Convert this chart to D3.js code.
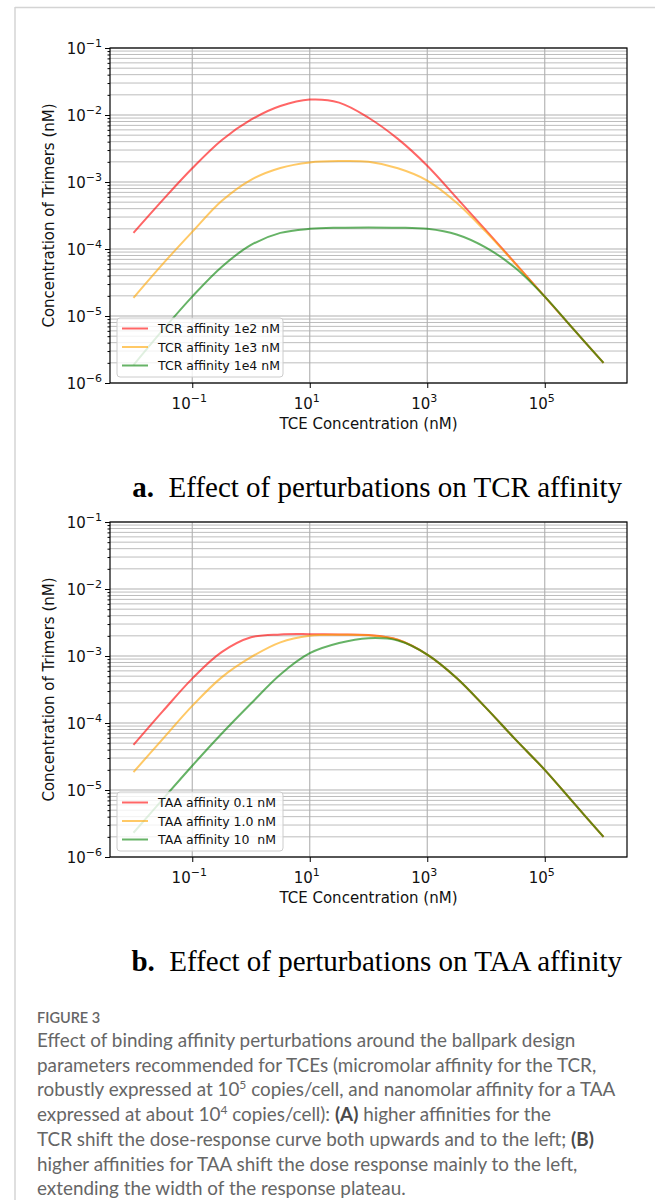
<!DOCTYPE html>
<html>
<head>
<meta charset="utf-8">
<script src="https://cdn.jsdelivr.net/npm/d3@7"></script>
<style>
  body { margin: 0; background: #fff; }
  svg { display: block; }
</style>
</head>
<body>
<svg id="fig" width="655" height="1200"></svg>
<script>
// TCE concentration sample points (nM), half-decade steps
const tceConc = [0.01, 0.0316, 0.1, 0.316, 1, 3.16, 10, 31.6, 100, 316, 1000, 3162, 1e4, 31623, 1e5, 316228, 1e6];

// Panel a: TCR affinity
const tcrLabels = ['TCR affinity 1e2 nM', 'TCR affinity 1e3 nM', 'TCR affinity 1e4 nM'];
const tcr1e2 = [1.74e-4, 5.4e-4, 1.6e-3, 4.2e-3, 8.5e-3, 1.36e-2, 1.7e-2, 1.53e-2, 9.1e-3, 4.4e-3, 1.75e-3, 5.8e-4, 1.9e-4, 6.1e-5, 1.95e-5, 6.2e-6, 2e-6];
const tcr1e3 = [1.87e-5, 6.0e-5, 1.8e-4, 5.2e-4, 1.08e-3, 1.62e-3, 1.96e-3, 2.05e-3, 2.0e-3, 1.6e-3, 1.05e-3, 4.9e-4, 1.8e-4, 6.0e-5, 1.95e-5, 6.2e-6, 2e-6];
const tcr1e4 = [1.85e-6, 6.2e-6, 1.95e-5, 5.4e-5, 1.15e-4, 1.74e-4, 2.0e-4, 2.08e-4, 2.1e-4, 2.08e-4, 2.0e-4, 1.65e-4, 1.05e-4, 5.2e-5, 1.95e-5, 6.2e-6, 2e-6];

// Panel b: TAA affinity
const taaLabels = ['TAA affinity 0.1 nM', 'TAA affinity 1.0 nM', 'TAA affinity 10  nM'];
const taa01 = [4.7e-5, 1.5e-4, 4.6e-4, 1.14e-3, 1.9e-3, 2.1e-3, 2.12e-3, 2.1e-3, 2.05e-3, 1.75e-3, 1.05e-3, 4.7e-4, 1.68e-4, 5.7e-5, 2.0e-5, 6.3e-6, 2e-6];
const taa1 = [1.85e-5, 5.8e-5, 1.8e-4, 4.8e-4, 9.6e-4, 1.6e-3, 2.0e-3, 2.07e-3, 2.04e-3, 1.75e-3, 1.05e-3, 4.7e-4, 1.68e-4, 5.7e-5, 2.0e-5, 6.3e-6, 2e-6];
const taa10 = [2.3e-6, 7.3e-6, 2.3e-5, 6.9e-5, 1.95e-4, 5.3e-4, 1.1e-3, 1.56e-3, 1.84e-3, 1.7e-3, 1.05e-3, 4.7e-4, 1.68e-4, 5.7e-5, 2.0e-5, 6.3e-6, 2e-6];

const seriesColors = ['red', 'orange', 'green'];
const xTicks = [1e-1, 1e1, 1e3, 1e5];
const xTickExp = ['\u22121', '1', '3', '5'];
const yTicks = [1e-6, 1e-5, 1e-4, 1e-3, 1e-2, 1e-1];
const yTickExp = ['\u22126', '\u22125', '\u22124', '\u22123', '\u22122', '\u22121'];

const captionLines = [
  [['Effect of binding affinity perturbations around the ballpark design']],
  [['parameters recommended for TCEs (micromolar affinity for the TCR,']],
  [['robustly expressed at 10'], ['5', 'sup'], [' copies/cell, and nanomolar affinity for a TAA']],
  [['expressed at about 10'], ['4', 'sup'], [' copies/cell): '], ['(A)', 'b'], [' higher affinities for the']],
  [['TCR shift the dose-response curve both upwards and to the left; '], ['(B)', 'b']],
  [['higher affinities for TAA shift the dose response mainly to the left,']],
  [['extending the width of the response plateau.']]
];

const svg = d3.select('#fig');

// page frame
svg.append('line').attr('x1', 15).attr('x2', 655).attr('y1', 7.5).attr('y2', 7.5)
  .attr('stroke', '#d4d4d4').attr('stroke-width', 1.5);
svg.append('line').attr('x1', 15).attr('x2', 15).attr('y1', 7).attr('y2', 1200)
  .attr('stroke', '#d4d4d4').attr('stroke-width', 1.5);

const left = 110, right = 627, plotH = 335;
const x = d3.scaleLog().domain([Math.pow(10, -2.4), Math.pow(10, 6.4)]).range([left, right]);

// minor y values 2..9 x 10^k
const yMinor = [];
for (let k = -6; k < -1; k++) {
  for (let m = 2; m <= 9; m++) yMinor.push(m * Math.pow(10, k));
}

function drawPanel(top, series, labels, title) {
  const y = d3.scaleLog().domain([1e-6, 1e-1]).range([top + plotH, top]);
  const g = svg.append('g');

  // grid
  g.append('g').selectAll('line').data(yMinor).join('line')
    .attr('x1', left).attr('x2', right)
    .attr('y1', d => y(d)).attr('y2', d => y(d))
    .attr('stroke', '#bdbdbd').attr('stroke-width', 1);
  g.append('g').selectAll('line').data(yTicks).join('line')
    .attr('x1', left).attr('x2', right)
    .attr('y1', d => y(d)).attr('y2', d => y(d))
    .attr('stroke', '#b0b0b0').attr('stroke-width', 1.1);
  g.append('g').selectAll('line').data(xTicks).join('line')
    .attr('x1', d => x(d)).attr('x2', d => x(d))
    .attr('y1', top).attr('y2', top + plotH)
    .attr('stroke', '#b0b0b0').attr('stroke-width', 1.1);

  // curves
  const line = d3.line()
    .x((d, i) => x(tceConc[i]))
    .y(d => y(d))
    .curve(d3.curveCatmullRom.alpha(0.5));
  series.forEach((s, i) => {
    g.append('path').attr('d', line(s))
      .attr('fill', 'none')
      .attr('stroke', seriesColors[i])
      .attr('stroke-opacity', 0.6)
      .attr('stroke-width', 2);
  });

  // frame
  g.append('rect').attr('x', left).attr('y', top)
    .attr('width', right - left).attr('height', plotH)
    .attr('fill', 'none').attr('stroke', '#000').attr('stroke-width', 1.2);

  // axes ticks
  const xAxis = g.append('g').attr('transform', `translate(0,${top + plotH})`)
    .call(d3.axisBottom(x).tickValues(xTicks).tickSize(5).tickFormat(''));
  const yAxis = g.append('g').attr('transform', `translate(${left},0)`)
    .call(d3.axisLeft(y).tickValues(yTicks).tickSize(5).tickFormat(''));
  g.append('g').attr('transform', `translate(${left},0)`)
    .call(d3.axisLeft(y).tickValues(yMinor).tickSize(2.5).tickFormat(''))
    .call(a => a.select('.domain').remove());
  [xAxis, yAxis].forEach(a => {
    a.select('.domain').remove();
    a.selectAll('line').attr('stroke', '#000').attr('stroke-width', 1);
  });

  // tick labels
  xTicks.forEach((v, i) => {
    const t = g.append('text').attr('x', x(v) - 3).attr('y', top + plotH + 26)
      .attr('text-anchor', 'middle')
      .style('font', '15px "DejaVu Sans"').attr('fill', '#111');
    t.append('tspan').text('10');
    t.append('tspan').attr('dy', -7).style('font-size', '11px').text(xTickExp[i]);
  });
  yTicks.forEach((v, i) => {
    const t = g.append('text').attr('x', 102).attr('y', y(v) + 5.5)
      .attr('text-anchor', 'end')
      .style('font', '15px "DejaVu Sans"').attr('fill', '#111');
    t.append('tspan').text('10');
    t.append('tspan').attr('dy', -7).style('font-size', '11px').text(yTickExp[i]);
  });

  // axis titles
  g.append('text').attr('x', (left + right) / 2).attr('y', top + plotH + 46)
    .attr('text-anchor', 'middle')
    .style('font', '15px "DejaVu Sans"').attr('fill', '#111')
    .text('TCE Concentration (nM)');
  g.append('text')
    .attr('transform', `translate(54,${top + plotH / 2}) rotate(-90)`)
    .attr('text-anchor', 'middle')
    .style('font', '15px "DejaVu Sans"').attr('fill', '#111')
    .text('Concentration of Trimers (nM)');

  // legend
  const lg = g.append('g').attr('transform', `translate(117,${top + plotH - 65})`);
  lg.append('rect').attr('width', 166).attr('height', 59).attr('rx', 3)
    .attr('fill', '#fff').attr('fill-opacity', 0.8)
    .attr('stroke', '#ccc').attr('stroke-width', 1);
  labels.forEach((lab, i) => {
    const ry = 10.5 + i * 18.5;
    lg.append('line').attr('x1', 5).attr('x2', 31).attr('y1', ry).attr('y2', ry)
      .attr('stroke', seriesColors[i]).attr('stroke-opacity', 0.6).attr('stroke-width', 2);
    lg.append('text').attr('x', 41).attr('y', ry + 4.5)
      .style('font', '12.5px "DejaVu Sans"').attr('fill', '#111')
      .attr('xml:space', 'preserve')
      .text(lab);
  });

  // panel title
  const tt = svg.append('text').attr('x', 622).attr('y', top + plotH + 114)
    .attr('text-anchor', 'end')
    .style('font', '29px "Liberation Serif"').attr('fill', '#000');
  tt.append('tspan').style('font-weight', 'bold').text(title[0]);
  tt.append('tspan').text('\u00a0 ' + title[1]);
}

drawPanel(48, [tcr1e2, tcr1e3, tcr1e4], tcrLabels, ['a.', 'Effect of perturbations on TCR affinity']);
drawPanel(522, [taa01, taa1, taa10], taaLabels, ['b.', 'Effect of perturbations on TAA affinity']);

// caption
svg.append('text').attr('x', 37).attr('y', 1023)
  .style('font', '600 14.5px Lato').attr('fill', '#666')
  .text('FIGURE 3');

const capTexts = captionLines.map((parts, i) => {
  const t = svg.append('text').attr('x', 37).attr('y', 1047 + i * 24.7)
    .style('font-family', 'Lato').style('font-size', '17.5px').attr('fill', '#666');
  parts.forEach(p => {
    const ts = t.append('tspan').text(p[0]);
    if (p[1] === 'sup') {
      ts.attr('dy', -7).style('font-size', '12px');
    } else if (p[1] === 'b') {
      ts.style('font-weight', 'bold').attr('fill', '#4a4a4a');
    }
  });
  // bring baseline back after superscripts
  t.selectAll('tspan').each(function(d, j, nodes) {
    const prev = nodes[j - 1];
    if (prev && prev.getAttribute('dy') === '-7') d3.select(this).attr('dy', 7);
  });
  return t;
});
// the third line runs to about x = 616 in the figure; size the caption to match
const w3 = capTexts[2].node().getComputedTextLength();
const capSize = 17.5 * 579 / w3;
capTexts.forEach(t => t.style('font-size', capSize + 'px'));
</script>
</body>
</html>
